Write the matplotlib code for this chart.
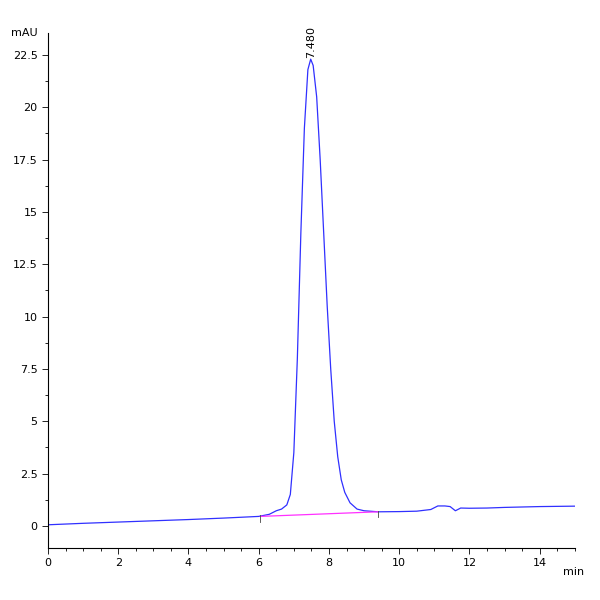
import matplotlib
matplotlib.use("Agg")
import matplotlib.pyplot as plt
import numpy as np
from matplotlib.ticker import MultipleLocator

plt.rcParams['font.family'] = ['Liberation Sans Narrow', 'DejaVu Sans']

times = [0, 1, 2, 3, 4, 5, 6.0, 6.3, 6.5, 6.65, 6.8, 6.9, 7.0, 7.1, 7.2, 7.3, 7.4, 7.48,
         7.55, 7.65, 7.75, 7.85, 7.95, 8.05, 8.15, 8.25, 8.35, 8.45, 8.6, 8.8, 9.0, 9.4,
         10.0, 10.5, 10.9, 11.1, 11.3, 11.45, 11.6, 11.75, 12.0, 12.5, 13.0, 13.5, 14.0, 14.5, 15.0]
signal = [0.05, 0.12, 0.18, 0.24, 0.3, 0.37, 0.45, 0.55, 0.72, 0.8, 1.0, 1.5, 3.5, 8.0, 14.0, 19.0, 21.8, 22.3,
          22.0, 20.5, 17.5, 14.0, 10.5, 7.5, 5.0, 3.3, 2.2, 1.6, 1.1, 0.8, 0.72, 0.67,
          0.68, 0.7, 0.78, 0.95, 0.95, 0.92, 0.72, 0.85, 0.84, 0.85, 0.88, 0.9, 0.92, 0.93, 0.94]
base_t = [6.05, 9.4]
base_y = [0.45, 0.67]
peak_time = 7.48
peak_label = "7.480"

fig = plt.figure(figsize=(6, 6), dpi=100)
ax = fig.add_axes([0.08, 0.087, 0.878, 0.858])
ax.plot(times, signal, color='#3030ff', lw=0.9)
ax.plot(base_t, base_y, color='#ff30ff', lw=0.9)
for t, y in zip(base_t, base_y):
    ax.plot([t, t], [y - 0.25, y + 0.05], color='#444444', lw=0.6)
ax.text(peak_time, 22.35, peak_label, rotation=90, ha='center', va='bottom', fontsize=8)
ax.set_xlim(0, 15)
ax.set_ylim(-1.05, 23.55)
ax.spines['top'].set_visible(False)
ax.spines['right'].set_visible(False)
ax.xaxis.set_major_locator(MultipleLocator(2))
ax.xaxis.set_minor_locator(MultipleLocator(0.5))
ax.yaxis.set_major_locator(MultipleLocator(2.5))
ax.yaxis.set_minor_locator(MultipleLocator(1.25))
ax.tick_params(labelsize=8, length=4, width=0.6)
ax.tick_params(which='minor', length=2.5, width=0.6)
ax.set_yticks(np.arange(0, 22.6, 2.5))
ax.set_yticklabels([f"{v:g}" for v in np.arange(0, 22.6, 2.5)])
ax.set_xticklabels([f"{int(v)}" if v < 15 else "" for v in ax.get_xticks()])
ax.text(-0.02, 23.55, "mAU", ha='right', va='center', fontsize=8, transform=ax.get_yaxis_transform())
ax.text(14.65, -2.2, "min", ha='left', va='center', fontsize=8)
fig.savefig("out.png", dpi=100)
